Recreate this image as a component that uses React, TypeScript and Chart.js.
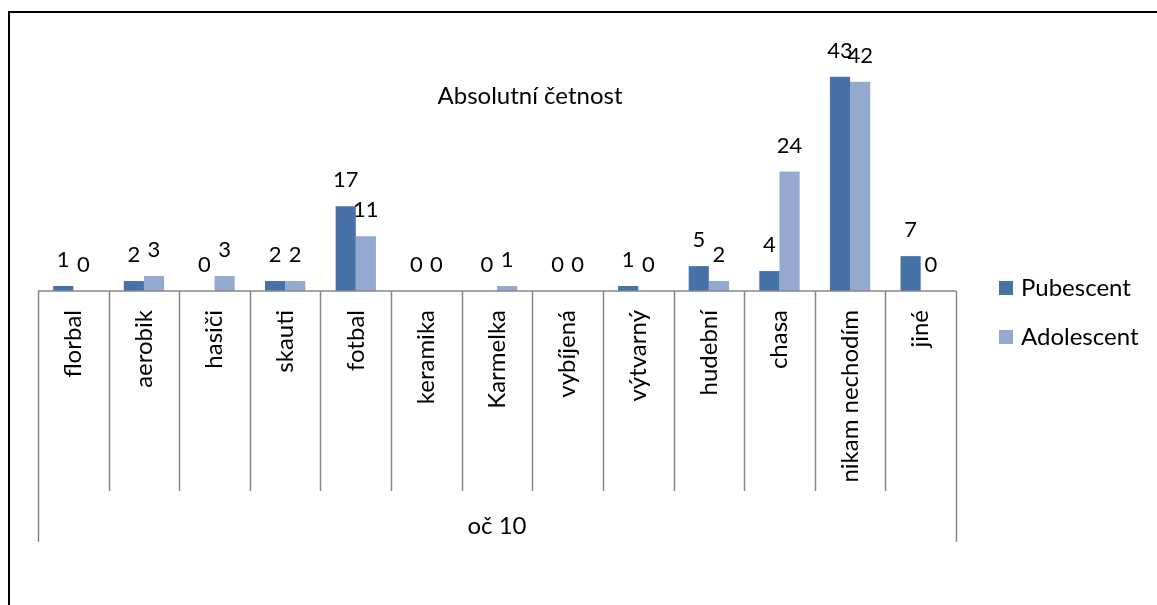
import React, { useEffect, useRef } from "react";
import { Chart, registerables } from "chart.js";

Chart.register(...registerables);

const categories = [
  "florbal", "aerobik", "hasiči", "skauti", "fotbal", "keramika", "Karmelka",
  "vybíjená", "výtvarný", "hudební", "chasa", "nikam nechodím", "jiné",
];
const pubescent = [1, 2, 0, 2, 17, 0, 0, 0, 1, 5, 4, 43, 7];
const adolescent = [0, 3, 3, 2, 11, 0, 1, 0, 0, 2, 24, 42, 0];
const seriesNames = ["Pubescent", "Adolescent"];
const seriesColors = ["#4672A8", "#94A9D0"];
const chartTitle = "Absolutní četnost";
const groupTitle = "oč 10";

const FONT = "Lato, 'Noto Sans', sans-serif";
const FS = 24;
const FS_NUM = 22;

const decorPlugin = {
  id: "decor",
  beforeDraw(chart: any) {
    const ctx = chart.ctx;
    ctx.save();
    ctx.strokeStyle = "#000";
    ctx.lineWidth = 2;
    ctx.beginPath();
    ctx.moveTo(9, chart.height);
    ctx.lineTo(9, 12);
    ctx.lineTo(chart.width, 12);
    ctx.stroke();
    ctx.restore();
  },
  afterDraw(chart: any) {
    const ctx = chart.ctx;
    const xs = chart.scales.x;
    const area = chart.chartArea;
    const n = chart.data.labels.length;
    ctx.save();
    // category boxes
    ctx.strokeStyle = "#868686";
    ctx.lineWidth = 1.5;
    ctx.beginPath();
    const yTop = area.bottom;
    ctx.moveTo(xs.getPixelForValue(-0.5), yTop);
    ctx.lineTo(xs.getPixelForValue(n - 0.5), yTop);
    for (let i = 0; i <= n; i++) {
      const x = Math.round(xs.getPixelForValue(i - 0.5)) + 0.5;
      const outer = i === 0 || i === n;
      ctx.moveTo(x, yTop);
      ctx.lineTo(x, outer ? xs.bottom : yTop + 200);
    }
    ctx.stroke();

    // data labels
    ctx.fillStyle = "#000";
    ctx.font = `${FS_NUM}px ${FONT}`;
    ctx.textAlign = "center";
    ctx.textBaseline = "middle";
    chart.data.datasets.forEach((ds: any, di: number) => {
      const meta = chart.getDatasetMeta(di);
      meta.data.forEach((bar: any, i: number) => {
        ctx.fillText(String(ds.data[i]), bar.x, bar.y - 26);
      });
    });

    // title
    ctx.font = `${FS}px ${FONT}`;
    ctx.fillText(chartTitle, area.left + (area.right - area.left) * 0.536, 96);

    // legend
    ctx.textAlign = "left";
    chart.data.datasets.forEach((ds: any, di: number) => {
      const cy = 288 + di * 49;
      const lx = area.right + 43;
      ctx.fillStyle = ds.backgroundColor;
      ctx.fillRect(lx, cy - 7, 14, 14);
      ctx.fillStyle = "#000";
      ctx.fillText(ds.label, lx + 22, cy);
    });
    ctx.restore();
  },
};

export default function App() {
  const ref = useRef<HTMLCanvasElement | null>(null);
  useEffect(() => {
    if (!ref.current) return;
    const chart = new Chart(ref.current, {
      type: "bar",
      data: {
        labels: categories,
        datasets: [
          {
            label: seriesNames[0],
            data: pubescent,
            backgroundColor: seriesColors[0],
            categoryPercentage: 0.571,
            barPercentage: 1,
          },
          {
            label: seriesNames[1],
            data: adolescent,
            backgroundColor: seriesColors[1],
            categoryPercentage: 0.571,
            barPercentage: 1,
          },
        ],
      },
      options: {
        responsive: false,
        animation: false,
        layout: { padding: { left: 38, right: 201, top: 42, bottom: 63 } },
        plugins: { legend: { display: false }, tooltip: { enabled: false }, title: { display: false } },
        scales: {
          x: {
            offset: true,
            grid: { display: false },
            border: { display: false },
            ticks: {
              autoSkip: false,
              minRotation: 90,
              maxRotation: 90,
              padding: 11,
              color: "#000",
              font: { family: FONT, size: FS },
            },
            title: {
              display: true,
              text: groupTitle,
              color: "#000",
              font: { family: FONT, size: FS },
              padding: { top: 0, bottom: 1 },
            },
            afterFit: (s: any) => {
              s.height = 251;
            },
          },
          y: { display: false, min: 0, max: 50 },
        },
      },
      plugins: [decorPlugin],
    });
    return () => chart.destroy();
  }, []);
  return (
    <div style={{ position: "fixed", left: 0, top: 0, width: 1157, height: 605, background: "#fff" }}>
      <canvas ref={ref} width={1157} height={605} style={{ display: "block" }} />
    </div>
  );
}
